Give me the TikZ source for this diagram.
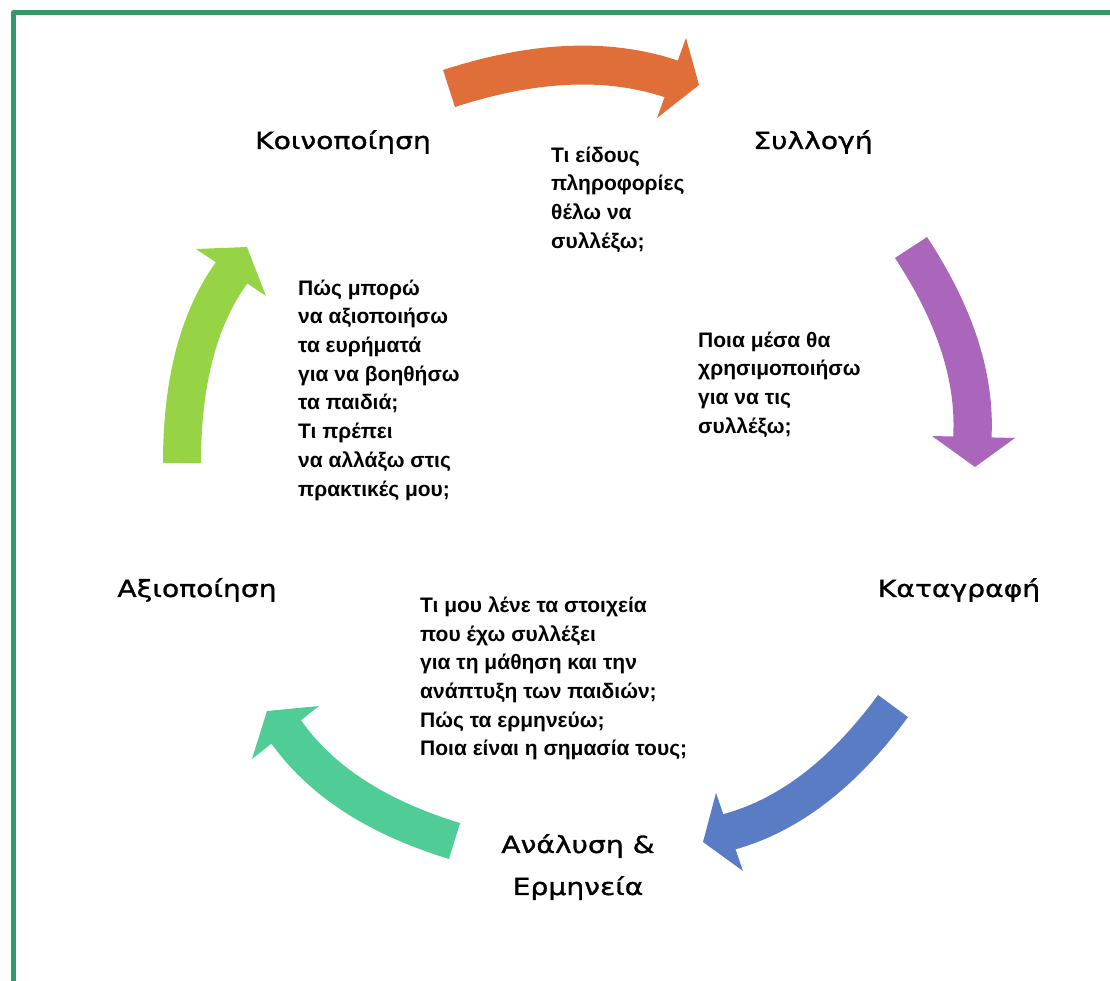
\documentclass[tikz,border=0pt]{standalone}
\usepackage{fontspec}
\setmainfont{Liberation Sans}
\newfontfamily\labelfont[FakeStretch=1.2,FakeBold=1.2]{DejaVu Sans}
\definecolor{frame}{RGB}{51,153,102}
\definecolor{aorange}{RGB}{223,110,56}
\definecolor{apurple}{RGB}{170,102,187}
\definecolor{ablue}{RGB}{90,124,196}
\definecolor{ateal}{RGB}{80,204,150}
\definecolor{agreen}{RGB}{150,212,70}
\tikzset{
  stage/.style={font=\labelfont\fontsize{23.5}{42}\selectfont, align=center, inner sep=0pt},
  question/.style={font=\bfseries\fontsize{21}{28.7}\selectfont, align=left, anchor=north west, inner sep=0pt},
  body/.style={line cap=butt, line join=miter},
}
\begin{document}
\begin{tikzpicture}[x=1pt,y=-1pt]
\useasboundingbox (0,0) rectangle (1110,981);
% frame
\draw[frame, line width=5pt, line join=round] (13,981) -- (13,13) -- (1110,13);

% orange arrow (Κοινοποίηση -> Συλλογή)
\coordinate (o1) at (449,88.5);
\coordinate (o2) at (669.5,78.3);
\coordinate (o3) at (677.1,80.8);
\draw[aorange, body, line width=38.9pt] (o1) .. controls (533,61.2) and (606.2,57.7) .. (o2) -- (o3);
\fill[aorange] (686,38) -- (699,85) -- (657,118) -- cycle;

% purple arrow (Συλλογή -> Καταγραφή)
\coordinate (p1) at (911,247.5);
\coordinate (p2) at (972.4,436);
\coordinate (p3) at (972.0,444);
\draw[apurple, body, line width=38.3pt] (p1) .. controls (954.8,314.2) and (975.3,376.4) .. (p2) -- (p3);
\fill[apurple] (932,436) -- (1015,438) -- (975,467) -- cycle;

% blue arrow (Καταγραφή -> Ανάλυση)
\coordinate (b1) at (893,706);
\coordinate (b2) at (731,831.3);
\coordinate (b3) at (723.3,833.5);
\draw[ablue, body, line width=37.2pt] (b1) .. controls (844.1,772.6) and (790.5,814.3) .. (b2) -- (b3);
\fill[ablue] (716,793) -- (703,842) -- (743,871) -- cycle;

% teal arrow (Ανάλυση -> Αξιοποίηση)
\coordinate (t1) at (454.5,841);
\coordinate (t2) at (287.7,734);
\coordinate (t3) at (283,727.5);
\draw[ateal, body, line width=37.6pt] (t1) .. controls (378.3,817.7) and (323,782.4) .. (t2) -- (t3);
\fill[ateal] (319,706) -- (267,711) -- (252,759) -- cycle;

% green arrow (Αξιοποίηση -> Κοινοποίηση)
\coordinate (g1) at (182,463);
\coordinate (g2) at (230.6,274.2);
\coordinate (g3) at (235.2,267.7);
\draw[agreen, body, line width=38pt] (g1) .. controls (182,383) and (198,320.3) .. (g2) -- (g3);
\fill[agreen] (196,249) -- (247,247) -- (266,296) -- cycle;

% stage labels
\node[stage] (koin) at (343,142) {Κοινοποίηση};
\node[stage] (syll) at (813,142) {Συλλογή};
\node[stage] (kata) at (959,590) {Καταγραφή};
\node[stage] (axio) at (197,590) {Αξιοποίηση};
\node[stage] (anal) at (578,867) {Ανάλυση \&\\Ερμηνεία};

% questions
\node[question] (q1) at (551,146.5) {Τι είδους\\πληροφορίες\\θέλω να\\συλλέξω;};
\node[question] (q2) at (698,331.5) {Ποια μέσα θα\\χρησιμοποιήσω\\για να τις\\συλλέξω;};
\node[question] (q3) at (298,279.5) {Πώς μπορώ\\να αξιοποιήσω\\τα ευρήματά\\για να βοηθήσω\\τα παιδιά;\\Τι πρέπει\\να αλλάξω στις\\πρακτικές μου;};
\node[question] (q4) at (420,596.5) {Τι μου λένε τα στοιχεία\\που έχω συλλέξει\\για τη μάθηση και την\\ανάπτυξη των παιδιών;\\Πώς τα ερμηνεύω;\\Ποια είναι η σημασία τους;};
\end{tikzpicture}
\end{document}
